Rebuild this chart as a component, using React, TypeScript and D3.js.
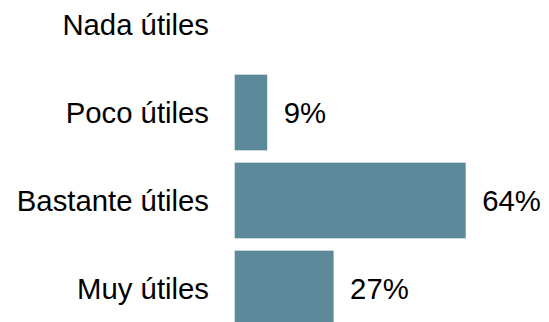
import React from "react";
import * as d3 from "d3";

const categories = ["Nada útiles", "Poco útiles", "Bastante útiles", "Muy útiles"];
const values = [0, 9, 64, 27.4];
const valueLabels = ["", "9%", "64%", "27%"];

const W = 549;
const H = 322;

export default function App() {
  const x = d3.scaleLinear().domain([0, 64]).range([234.7, 465.7]);
  const y = d3
    .scaleBand<string>()
    .domain(categories)
    .range([-19.5, -19.5 + 4 * 88])
    .paddingInner(0.14)
    .paddingOuter(0.07);
  const font = "Liberation Sans, Arial, sans-serif";
  return (
    <svg
      width={W}
      height={H}
      style={{ position: "absolute", left: 0, top: 0, background: "#fff" }}
    >
      {categories.map((c, i) => {
        const yc = (y(c) as number) + y.bandwidth() / 2;
        return (
          <g key={c}>
            {values[i] > 0 && (
              <rect
                x={x(0)}
                y={y(c)}
                width={x(values[i]) - x(0)}
                height={y.bandwidth()}
                fill="#5d8a9a"
              />
            )}
            <text
              x={209}
              y={yc}
              textAnchor="end"
              dominantBaseline="central"
              fontFamily={font}
              fontSize={29.3}
              fill="#000"
            >
              {c}
            </text>
            {values[i] > 0 && (
              <text
                x={x(values[i]) + 16.5}
                y={yc}
                dominantBaseline="central"
                fontFamily={font}
                fontSize={29.3}
                fill="#000"
              >
                {valueLabels[i]}
              </text>
            )}
          </g>
        );
      })}
    </svg>
  );
}
